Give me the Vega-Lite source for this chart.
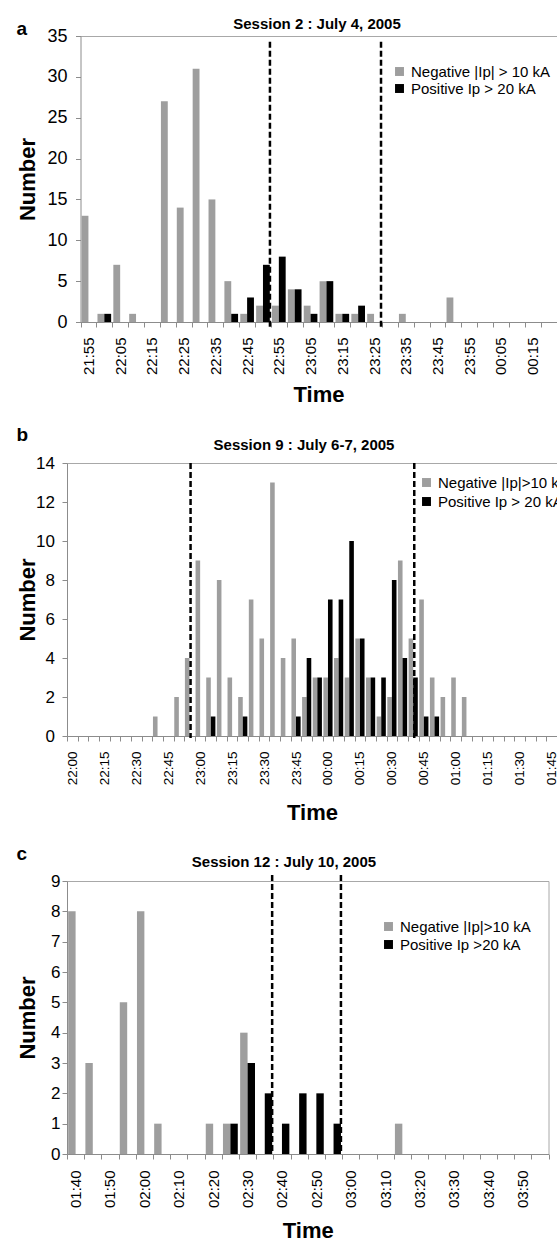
{
  "$schema": "https://vega.github.io/schema/vega-lite/v6.json",
  "padding": {"left": 16, "top": 16, "right": 0, "bottom": 0},
  "background": "white",
  "datasets": {
    "a": [
      {"t": "07-04 21:55", "neg": 13, "pos": 0},
      {"t": "07-04 22:00", "neg": 1, "pos": 1},
      {"t": "07-04 22:05", "neg": 7, "pos": 0},
      {"t": "07-04 22:10", "neg": 1, "pos": 0},
      {"t": "07-04 22:15", "neg": 0, "pos": 0},
      {"t": "07-04 22:20", "neg": 27, "pos": 0},
      {"t": "07-04 22:25", "neg": 14, "pos": 0},
      {"t": "07-04 22:30", "neg": 31, "pos": 0},
      {"t": "07-04 22:35", "neg": 15, "pos": 0},
      {"t": "07-04 22:40", "neg": 5, "pos": 1},
      {"t": "07-04 22:45", "neg": 1, "pos": 3},
      {"t": "07-04 22:50", "neg": 2, "pos": 7},
      {"t": "07-04 22:55", "neg": 2, "pos": 8},
      {"t": "07-04 23:00", "neg": 4, "pos": 4},
      {"t": "07-04 23:05", "neg": 2, "pos": 1},
      {"t": "07-04 23:10", "neg": 5, "pos": 5},
      {"t": "07-04 23:15", "neg": 1, "pos": 1},
      {"t": "07-04 23:20", "neg": 1, "pos": 2},
      {"t": "07-04 23:25", "neg": 1, "pos": 0},
      {"t": "07-04 23:30", "neg": 0, "pos": 0},
      {"t": "07-04 23:35", "neg": 1, "pos": 0},
      {"t": "07-04 23:40", "neg": 0, "pos": 0},
      {"t": "07-04 23:45", "neg": 0, "pos": 0},
      {"t": "07-04 23:50", "neg": 3, "pos": 0},
      {"t": "07-04 23:55", "neg": 0, "pos": 0},
      {"t": "07-05 00:00", "neg": 0, "pos": 0},
      {"t": "07-05 00:05", "neg": 0, "pos": 0},
      {"t": "07-05 00:10", "neg": 0, "pos": 0},
      {"t": "07-05 00:15", "neg": 0, "pos": 0},
      {"t": "07-05 00:20", "neg": 0, "pos": 0}
    ],
    "b": [
      {"t": "07-06 22:00", "neg": 0, "pos": 0},
      {"t": "07-06 22:05", "neg": 0, "pos": 0},
      {"t": "07-06 22:10", "neg": 0, "pos": 0},
      {"t": "07-06 22:15", "neg": 0, "pos": 0},
      {"t": "07-06 22:20", "neg": 0, "pos": 0},
      {"t": "07-06 22:25", "neg": 0, "pos": 0},
      {"t": "07-06 22:30", "neg": 0, "pos": 0},
      {"t": "07-06 22:35", "neg": 0, "pos": 0},
      {"t": "07-06 22:40", "neg": 1, "pos": 0},
      {"t": "07-06 22:45", "neg": 0, "pos": 0},
      {"t": "07-06 22:50", "neg": 2, "pos": 0},
      {"t": "07-06 22:55", "neg": 4, "pos": 0},
      {"t": "07-06 23:00", "neg": 9, "pos": 0},
      {"t": "07-06 23:05", "neg": 3, "pos": 1},
      {"t": "07-06 23:10", "neg": 8, "pos": 0},
      {"t": "07-06 23:15", "neg": 3, "pos": 0},
      {"t": "07-06 23:20", "neg": 2, "pos": 1},
      {"t": "07-06 23:25", "neg": 7, "pos": 0},
      {"t": "07-06 23:30", "neg": 5, "pos": 0},
      {"t": "07-06 23:35", "neg": 13, "pos": 0},
      {"t": "07-06 23:40", "neg": 4, "pos": 0},
      {"t": "07-06 23:45", "neg": 5, "pos": 1},
      {"t": "07-06 23:50", "neg": 2, "pos": 4},
      {"t": "07-06 23:55", "neg": 3, "pos": 3},
      {"t": "07-07 00:00", "neg": 3, "pos": 7},
      {"t": "07-07 00:05", "neg": 4, "pos": 7},
      {"t": "07-07 00:10", "neg": 3, "pos": 10},
      {"t": "07-07 00:15", "neg": 5, "pos": 5},
      {"t": "07-07 00:20", "neg": 3, "pos": 3},
      {"t": "07-07 00:25", "neg": 1, "pos": 3},
      {"t": "07-07 00:30", "neg": 2, "pos": 8},
      {"t": "07-07 00:35", "neg": 9, "pos": 4},
      {"t": "07-07 00:40", "neg": 5, "pos": 3},
      {"t": "07-07 00:45", "neg": 7, "pos": 1},
      {"t": "07-07 00:50", "neg": 3, "pos": 1},
      {"t": "07-07 00:55", "neg": 2, "pos": 0},
      {"t": "07-07 01:00", "neg": 3, "pos": 0},
      {"t": "07-07 01:05", "neg": 2, "pos": 0},
      {"t": "07-07 01:10", "neg": 0, "pos": 0},
      {"t": "07-07 01:15", "neg": 0, "pos": 0},
      {"t": "07-07 01:20", "neg": 0, "pos": 0},
      {"t": "07-07 01:25", "neg": 0, "pos": 0},
      {"t": "07-07 01:30", "neg": 0, "pos": 0},
      {"t": "07-07 01:35", "neg": 0, "pos": 0},
      {"t": "07-07 01:40", "neg": 0, "pos": 0},
      {"t": "07-07 01:45", "neg": 0, "pos": 0}
    ],
    "c": [
      {"t": "07-10 01:40", "neg": 8, "pos": 0},
      {"t": "07-10 01:45", "neg": 3, "pos": 0},
      {"t": "07-10 01:50", "neg": 0, "pos": 0},
      {"t": "07-10 01:55", "neg": 5, "pos": 0},
      {"t": "07-10 02:00", "neg": 8, "pos": 0},
      {"t": "07-10 02:05", "neg": 1, "pos": 0},
      {"t": "07-10 02:10", "neg": 0, "pos": 0},
      {"t": "07-10 02:15", "neg": 0, "pos": 0},
      {"t": "07-10 02:20", "neg": 1, "pos": 0},
      {"t": "07-10 02:25", "neg": 1, "pos": 1},
      {"t": "07-10 02:30", "neg": 4, "pos": 3},
      {"t": "07-10 02:35", "neg": 0, "pos": 2},
      {"t": "07-10 02:40", "neg": 0, "pos": 1},
      {"t": "07-10 02:45", "neg": 0, "pos": 2},
      {"t": "07-10 02:50", "neg": 0, "pos": 2},
      {"t": "07-10 02:55", "neg": 0, "pos": 1},
      {"t": "07-10 03:00", "neg": 0, "pos": 0},
      {"t": "07-10 03:05", "neg": 0, "pos": 0},
      {"t": "07-10 03:10", "neg": 0, "pos": 0},
      {"t": "07-10 03:15", "neg": 1, "pos": 0},
      {"t": "07-10 03:20", "neg": 0, "pos": 0},
      {"t": "07-10 03:25", "neg": 0, "pos": 0},
      {"t": "07-10 03:30", "neg": 0, "pos": 0},
      {"t": "07-10 03:35", "neg": 0, "pos": 0},
      {"t": "07-10 03:40", "neg": 0, "pos": 0},
      {"t": "07-10 03:45", "neg": 0, "pos": 0},
      {"t": "07-10 03:50", "neg": 0, "pos": 0},
      {"t": "07-10 03:55", "neg": 0, "pos": 0}
    ]
  },
  "columns": 1,
  "align": "none",
  "spacing": 19,
  "resolve": {
    "scale": {"x": "independent", "y": "independent", "xOffset": "independent", "color": "independent"},
    "axis": {"x": "independent", "y": "independent"},
    "legend": {"color": "independent"}
  },
  "concat": [
    {
      "title": {"text": "a", "anchor": "start", "frame": "bounds", "fontSize": 19, "fontWeight": "bold", "offset": -23, "dx": 0},
      "width": 489.5,
      "height": 286,
      "view": {"stroke": null},
      "data": {"name": "a"},
      "resolve": {"axis": {"x": "independent", "y": "independent"}},
      "layer": [
        {
          "transform": [{"fold": ["neg", "pos"], "as": ["series", "n"]}],
          "mark": {"type": "bar"},
          "encoding": {
            "x": {"field": "t", "type": "ordinal", "title": "Time",
              "scale": {"paddingInner": 0, "paddingOuter": 0, "range": [13.5, 489.5]},
              "axis": {"labelExpr": "substring(datum.label, 10, 11) == '5' ? substring(datum.label, 6, 11) : ''", "labelFontSize": 15, "labelPadding": 10, "titlePadding": 10, "labelOverlap": false}},
            "xOffset": {"field": "series", "scale": {"paddingInner": 0, "paddingOuter": 0.16}},
            "y": {"field": "n", "type": "quantitative", "title": "Number",
              "scale": {"domain": [0, 35], "nice": false},
              "axis": {"values": [0, 5, 10, 15, 20, 25, 30, 35], "offset": -13.5, "labelFontSize": 18, "labelPadding": 8.5, "titlePadding": 7.5, "labelOverlap": false, "minExtent": 0}},
            "color": {"field": "series", "type": "nominal",
              "scale": {"domain": ["neg", "pos"], "range": ["#9e9e9e", "#000000"]},
              "legend": {"orient": "none", "legendX": 325, "legendY": 28,
                "labelExpr": "datum.value == 'neg' ? 'Negative |Ip| > 10 kA' : 'Positive Ip > 20 kA'"}}
          }
        },
        {
          "transform": [{"filter": {"field": "t", "oneOf": ["07-04 22:50", "07-04 23:25"]}}],
          "mark": {"type": "rule", "strokeDash": [6, 3], "strokeWidth": 2.5, "color": "#000000"},
          "encoding": {
            "x": {"field": "t", "type": "ordinal", "bandPosition": 0.94,
              "axis": {"orient": "top", "title": "Session 2 : July 4, 2005", "labels": false, "ticks": false, "domain": true, "domainColor": "#a8a8a8", "minExtent": 0, "titleFontSize": 15, "titlePadding": 5, "titleX": 249.5}},
            "y": {"datum": 34.3, "type": "quantitative", "axis": null},
            "y2": {"datum": -0.7}
          }
        }
      ]
    },
    {
      "title": {"text": "b", "anchor": "start", "frame": "bounds", "fontSize": 19, "fontWeight": "bold", "offset": -7, "dx": 0},
      "width": 490,
      "height": 273,
      "data": {"name": "b"},
      "resolve": {"axis": {"x": "independent", "y": "independent"}},
      "layer": [
        {
          "transform": [{"fold": ["neg", "pos"], "as": ["series", "n"]}],
          "mark": {"type": "bar"},
          "encoding": {
            "x": {"field": "t", "type": "ordinal", "title": "Time",
              "scale": {"paddingInner": 0, "paddingOuter": 0},
              "axis": {"labelExpr": "indexof(['00', '15', '30', '45'], substring(datum.label, 9, 11)) >= 0 ? substring(datum.label, 6, 11) : ''", "labelFontSize": 13.5, "labelPadding": 10, "titlePadding": 18, "labelOverlap": false}},
            "xOffset": {"field": "series", "scale": {"paddingInner": 0, "paddingOuter": 0.16}},
            "y": {"field": "n", "type": "quantitative", "title": "Number",
              "scale": {"domain": [0, 14], "nice": false},
              "axis": {"values": [0, 2, 4, 6, 8, 10, 12, 14], "labelFontSize": 17, "labelPadding": 7.5, "titlePadding": -4, "labelOverlap": false, "minExtent": 0}},
            "color": {"field": "series", "type": "nominal",
              "scale": {"domain": ["neg", "pos"], "range": ["#9e9e9e", "#000000"]},
              "legend": {"orient": "none", "legendX": 352, "legendY": 12, "rowPadding": 3,
                "labelExpr": "datum.value == 'neg' ? 'Negative |Ip|>10 kA' : 'Positive Ip > 20 kA'"}}
          }
        },
        {
          "transform": [{"filter": {"field": "t", "oneOf": ["07-06 22:55", "07-07 00:40"]}}],
          "mark": {"type": "rule", "strokeDash": [6, 3], "strokeWidth": 2.5, "color": "#000000"},
          "encoding": {
            "x": {"field": "t", "type": "ordinal", "bandPosition": 0.6,
              "axis": {"orient": "top", "title": "Session 9 : July 6-7, 2005", "labels": false, "ticks": false, "domain": false, "minExtent": 0, "titleFontSize": 15, "titlePadding": 10.5, "titleX": 236.5}},
            "y": {"datum": 14, "type": "quantitative", "axis": null},
            "y2": {"datum": -0.1}
          }
        }
      ]
    },
    {
      "title": {"text": "c", "anchor": "start", "frame": "bounds", "fontSize": 19, "fontWeight": "bold", "offset": -9.5, "dx": 0},
      "width": 481.5,
      "height": 273,
      "data": {"name": "c"},
      "resolve": {"axis": {"x": "independent", "y": "independent"}},
      "layer": [
        {
          "transform": [{"fold": ["neg", "pos"], "as": ["series", "n"]}],
          "mark": {"type": "bar"},
          "encoding": {
            "x": {"field": "t", "type": "ordinal", "title": "Time",
              "scale": {"paddingInner": 0, "paddingOuter": 0},
              "axis": {"labelExpr": "substring(datum.label, 10, 11) == '0' ? substring(datum.label, 6, 11) : ''", "labelFontSize": 15, "labelPadding": 11, "titlePadding": 13, "labelOverlap": false}},
            "xOffset": {"field": "series", "scale": {"paddingInner": 0, "paddingOuter": 0.16}},
            "y": {"field": "n", "type": "quantitative", "title": "Number",
              "scale": {"domain": [0, 9], "nice": false},
              "axis": {"values": [0, 1, 2, 3, 4, 5, 6, 7, 8, 9], "labelFontSize": 17, "labelPadding": 2, "titlePadding": 11, "labelOverlap": false, "minExtent": 0}},
            "color": {"field": "series", "type": "nominal",
              "scale": {"domain": ["neg", "pos"], "range": ["#9e9e9e", "#000000"]},
              "legend": {"orient": "none", "legendX": 314, "legendY": 38, "rowPadding": 2,
                "labelExpr": "datum.value == 'neg' ? 'Negative |Ip|>10 kA' : 'Positive Ip >20 kA'"}}
          }
        },
        {
          "transform": [{"filter": {"field": "t", "oneOf": ["07-10 02:35", "07-10 02:55"]}}],
          "mark": {"type": "rule", "strokeDash": [6, 3], "strokeWidth": 2.5, "color": "#000000", "clip": false},
          "encoding": {
            "x": {"field": "t", "type": "ordinal", "bandPosition": 0.93,
              "axis": {"orient": "top", "title": "Session 12 : July 10, 2005", "labels": false, "ticks": false, "domain": false, "minExtent": 0, "titleFontSize": 15, "titlePadding": 11.5, "titleX": 216.5}},
            "y": {"datum": 9.2, "type": "quantitative", "axis": null},
            "y2": {"datum": 0}
          }
        }
      ]
    }
  ],
  "config": {
    "font": "Liberation Sans",
    "view": {"stroke": "#a8a8a8", "strokeWidth": 1},
    "axis": {"grid": false, "domainColor": "#8c8c8c", "tickColor": "#8c8c8c", "labelColor": "#000000", "titleColor": "#000000", "labelFont": "Liberation Sans", "titleFont": "Liberation Sans"},
    "axisX": {"labelAngle": -90, "tickBand": "extent", "tickSize": 5, "titleFontSize": 22, "titleFontWeight": "bold"},
    "axisY": {"tickSize": 5, "titleFontSize": 22, "titleFontWeight": "bold", "labelOverlap": false},
    "legend": {"title": null, "symbolType": "square", "symbolSize": 80, "symbolStrokeWidth": 0, "labelFontSize": 15, "labelFont": "Liberation Sans", "labelColor": "#000000", "rowPadding": 1, "labelOffset": 4},
    "title": {"font": "Liberation Sans", "color": "#000000"}
  }
}
